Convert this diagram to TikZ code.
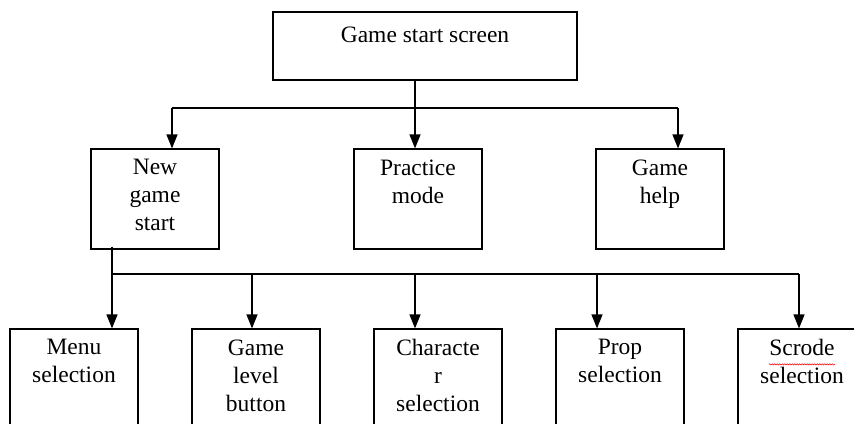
\documentclass[tikz,border=0pt]{standalone}
\usepackage{fontspec}
\setmainfont{Liberation Serif}
\usetikzlibrary{arrows.meta,decorations.pathmorphing}

\begin{document}
\begin{tikzpicture}[x=1pt,y=-1pt]

\tikzset{box/.style = {draw, line width=1.2pt, minimum width=128pt, minimum height=100pt, inner sep=0pt}}
\tikzset{txt/.style = {anchor=north, inner sep=0pt, align=center, font=\fontsize{23.5}{28}\selectfont, execute at begin node=\rule{0pt}{20pt}}}
\tikzset{wire/.style = {line width=1.3pt}}
\tikzset{edge/.style = {wire, -{Triangle[length=14pt,width=11pt]}}}
\tikzset{spell/.style = {red, line width=0.5pt, decorate, decoration={snake, amplitude=0.7pt, segment length=2.5pt}}}
\useasboundingbox (0,0) rectangle (854,423);
\clip (0,0) rectangle (854,423);
%\draw[help lines] (0,0) grid (854,423);

% first level
\node[box, minimum width=304pt, minimum height=68pt] (top) at (425,46) {};
\node[txt] (top-t) at ([yshift=-11pt]top.north) {Game start screen};

% second level
\node[box] (new) at (155,199) {};
\node[box] (prac) at (418,199) {};
\node[box] (help) at (660,199) {};
\node[txt] (new-t) at ([yshift=-11pt]new.north) {New\\game\\start};
\node[txt] (prac-t) at ([yshift=-11pt]prac.north) {Practice\\mode};
\node[txt] (help-t) at ([yshift=-11pt]help.north) {Game\\help};

% third level
\node[box, minimum height=120pt] (menu) at (74,389) {};
\node[box, minimum height=120pt] (level) at (256,389) {};
\node[box, minimum height=120pt] (char) at (438,389) {};
\node[box, minimum height=120pt] (prop) at (620,389) {};
\node[box, minimum height=120pt] (scr) at (802,389) {};
\node[txt] (menu-t) at ([yshift=-11pt]menu.north) {Menu\\selection};
\node[txt] (level-t) at ([yshift=-11pt]level.north) {Game\\level\\button};
\node[txt] (char-t) at ([yshift=-11pt]char.north) {Characte\\r\\selection};
\node[txt] (prop-t) at ([yshift=-11pt]prop.north) {Prop\\selection};
\node[txt] (scr-t) at ([yshift=-11pt]scr.north) {Scrode\\selection};
\draw[spell] ([xshift=-33pt,yshift=-36pt]scr.north) -- ([xshift=33pt,yshift=-36pt]scr.north);

% joints
\coordinate (a0) at (415,108);
\coordinate (a1) at (172,108);
\coordinate (a2) at (678,108);
\coordinate (b1) at (112,274);
\coordinate (b2) at (252,274);
\coordinate (b3) at (415,274);
\coordinate (b4) at (597,274);
\coordinate (b5) at (799,274);

\draw[wire] (top.south -| a0) -- (a0);
\draw[wire] (a1) -- (a2);
\draw[edge] (a1) -- (a1 |- new.north);
\draw[edge] (a0) -- (a0 |- prac.north);
\draw[edge] (a2) -- (a2 |- help.north);

\draw[wire] ([yshift=3pt]new.south -| b1) -- (b1);
\draw[wire] (b1) -- (b5);
\draw[edge] (b1) -- (b1 |- menu.north);
\draw[edge] (b2) -- (b2 |- level.north);
\draw[edge] (b3) -- (b3 |- char.north);
\draw[edge] (b4) -- (b4 |- prop.north);
\draw[edge] (b5) -- (b5 |- scr.north);
\end{tikzpicture}
\end{document}
